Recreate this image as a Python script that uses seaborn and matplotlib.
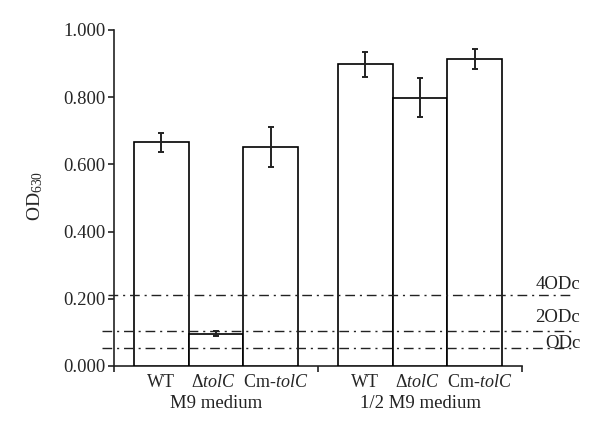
import matplotlib
matplotlib.use("Agg")
import matplotlib.pyplot as plt
import matplotlib.transforms as mtransforms
import seaborn as sns
import pandas as pd
import numpy as np

# ---- data ----
groups = ["M9 medium", "1/2 M9 medium"]
strains = ["WT", "Δ$\\mathit{tolC}$", "Cm-$\\mathit{tolC}$"]
od_m9 = [0.666, 0.096, 0.651]
err_m9 = [0.028, 0.008, 0.060]
od_half = [0.898, 0.798, 0.913]
err_half = [0.037, 0.058, 0.029]
ref_levels = [0.0525, 0.105, 0.210]
ref_labels = ["ODc", "2ODc", "4ODc"]
ytick_vals = [0.0, 0.2, 0.4, 0.6, 0.8, 1.0]

sns.set_style("ticks")
plt.rcParams["font.family"] = ["Liberation Serif", "DejaVu Serif"]
plt.rcParams["mathtext.fontset"] = "custom"
plt.rcParams["mathtext.rm"] = "Liberation Serif"
plt.rcParams["mathtext.it"] = "Liberation Serif:italic"

FS = 13.5
FSX = 13
group_span = 3.71
rows = []
for g, (vals, errs) in enumerate([(od_m9, err_m9), (od_half, err_half)]):
    for i, (v, e) in enumerate(zip(vals, errs)):
        rows.append({"pos": g * group_span + i, "od": v, "err": e,
                     "strain": strains[i], "group": groups[g]})
df = pd.DataFrame(rows)

fig = plt.figure(figsize=(6.0, 4.36), dpi=100)
ax = fig.add_axes([114/600, 1-366/436, 408/600, 336/436])

sns.barplot(data=df, x="pos", y="od", native_scale=True, width=1.0,
            color="white", saturation=1, edgecolor="black", linewidth=1.2,
            errorbar=None, ax=ax, zorder=3)
ax.errorbar(df["pos"], df["od"], yerr=df["err"], fmt="none", ecolor="#222222",
            elinewidth=1.4, capsize=2.0, capthick=1.4, zorder=4)

x0 = -0.855
x1 = 2 * group_span - 0.855
ax.set_xlim(x0, x1)
ax.set_ylim(0, 1.0)

# reference dash-dot lines
trans = ax.get_yaxis_transform()
label_y = {"ODc": 0.055, "2ODc": 0.131, "4ODc": 0.229}
for lvl, lab in zip(ref_levels, ref_labels):
    xs = -0.015 if lab == "4ODc" else -0.03
    ax.plot([xs, 1.125], [lvl, lvl], transform=trans, clip_on=False,
            color="#222222", lw=1.0, ls=(0, (7, 3.5, 1.5, 3.5)), zorder=5)
    ax.text(1.143, label_y[lab], lab, transform=trans, ha="right", va="baseline",
            fontsize=FS, color="#222222", clip_on=False)

ax.set_yticks(ytick_vals)
ax.set_yticklabels([f"{v:.3f}" for v in ytick_vals], fontsize=FS)
ax.set_xticks(df["pos"])
ax.set_xticklabels(df["strain"], fontsize=FSX)
ax.tick_params(axis="x", which="major", length=0, pad=6)
# small horizontal nudges so neighbouring labels do not touch
shifts = [0, -3, 5, 0, -3, 5]
for lbl, dx in zip(ax.get_xticklabels(), shifts):
    lbl.set_transform(lbl.get_transform() +
                      mtransforms.ScaledTranslation(dx / 100, 0, fig.dpi_scale_trans))
ax.set_xticks([x0, x0 + group_span, x1], minor=True)
ax.tick_params(axis="x", which="minor", length=4, width=1.2, color="#222222", direction="out")
ax.tick_params(axis="y", length=4, width=1.2, color="#222222", pad=2)

for g, name in enumerate(groups):
    ax.text(g * group_span + 1, -0.112, name, transform=ax.get_xaxis_transform(),
            ha="center", va="center", fontsize=FS, color="#222222")

ax.set_xlabel("")
ax.set_ylabel("OD$_{630}$", fontsize=FS + 0.5)
ax.yaxis.set_label_coords(-0.168, 0.506)

sns.despine(ax=ax)
for s in ["left", "bottom"]:
    ax.spines[s].set_linewidth(1.2)
    ax.spines[s].set_color("#222222")

fig.savefig("out.png", dpi=100, facecolor="white")
